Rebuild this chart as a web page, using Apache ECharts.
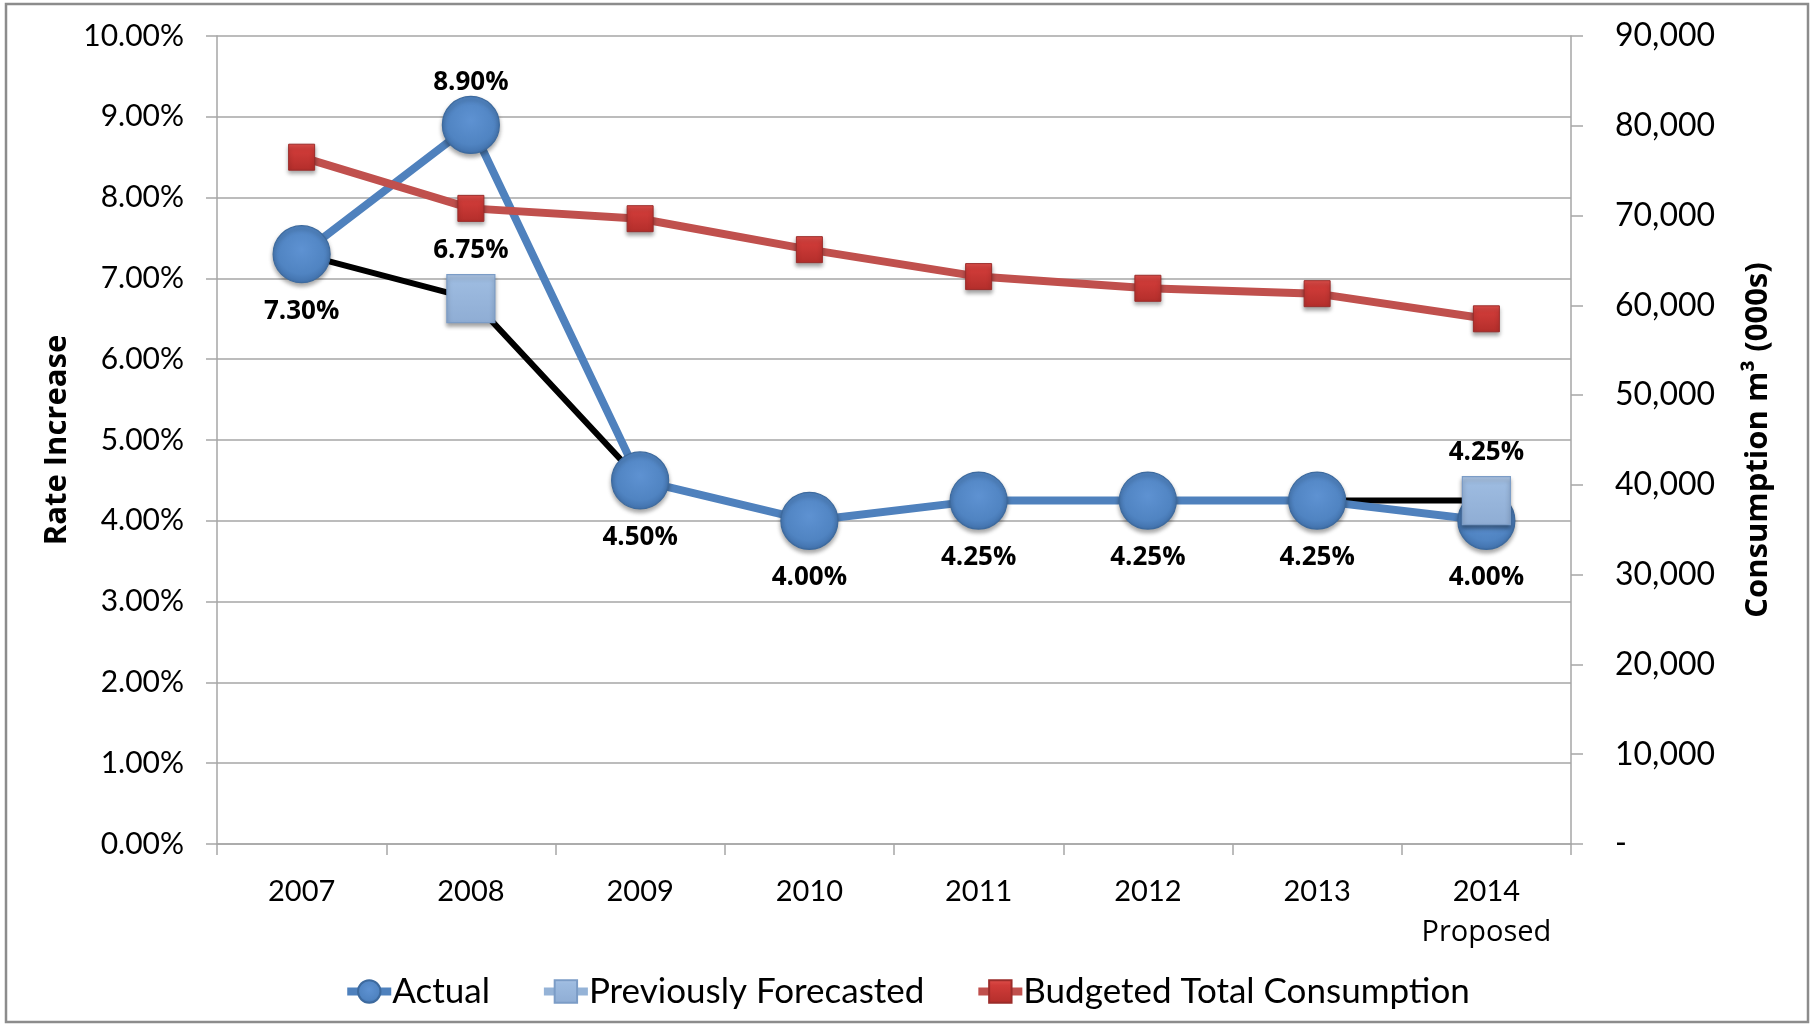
<!DOCTYPE html>
<html>
<head>
<meta charset="utf-8">
<title>Rate Increase and Budgeted Consumption</title>
<script src="https://cdn.jsdelivr.net/npm/echarts@6/dist/echarts.min.js"></script>
<style>
  html, body { margin: 0; padding: 0; background: #ffffff; }
  #chart { width: 1813px; height: 1026px; }
</style>
</head>
<body>
<div id="chart"></div>
<script>
// Years on the category axis, with a second-line note under some of them
const years = ['2007', '2008', '2009', '2010', '2011', '2012', '2013', '2014'];
const yearNotes = ['', '', '', '', '', '', '', 'Proposed'];

// Rate increase (%), actual and previously forecasted
const actualRate = [7.30, 8.90, 4.50, 4.00, 4.25, 4.25, 4.25, 4.00];
const forecastRate = [7.30, 6.75, 4.50, 4.00, 4.25, 4.25, 4.25, 4.25];
const forecastMarked = [false, true, false, false, false, false, false, true];

// Budgeted total consumption, m3 (000s)
const budgetedConsumption = [76500, 70800, 69650, 66200, 63200, 61900, 61300, 58500];

// Axis ranges
const rateAxisRange = { min: 0, max: 10, interval: 1 };
const consumptionAxisRange = { min: 0, max: 90000, interval: 10000 };

// Which actual-rate labels sit above their marker
const actualLabelAbove = [false, true, false, false, false, false, false, false];

const tickFont = 'Lato, "Noto Sans", sans-serif';
const boldFont = '"Open Sans", "Noto Sans", sans-serif';
const gridGray = '#a6a6a6';
const pct = v => v.toFixed(2) + '%';

const actualFill = {
  type: 'radial', x: 0.5, y: 0.42, r: 0.6,
  colorStops: [
    { offset: 0, color: '#5e92d2' },
    { offset: 0.7, color: '#5084c2' },
    { offset: 1, color: '#3f6ea8' }
  ]
};
const forecastFill = {
  type: 'linear', x: 0, y: 0, x2: 0, y2: 1,
  colorStops: [
    { offset: 0, color: '#b4cbe8' },
    { offset: 0.15, color: '#9dbbe0' },
    { offset: 1, color: '#8fadd4' }
  ]
};
const budgetFill = {
  type: 'linear', x: 0, y: 0, x2: 0, y2: 1,
  colorStops: [
    { offset: 0, color: '#e0504c' },
    { offset: 0.25, color: '#cf3b38' },
    { offset: 1, color: '#b32e2b' }
  ]
};
const markShadow = { shadowBlur: 4, shadowOffsetY: 3, shadowColor: 'rgba(0,0,0,0.35)' };

const chart = echarts.init(document.getElementById('chart'), null, { renderer: 'canvas' });

const option = {
  backgroundColor: '#ffffff',
  animation: false,
  graphic: [{
    type: 'rect',
    shape: { x: 6, y: 4, width: 1802, height: 1018 },
    style: { fill: 'none', stroke: '#8c8c8c', lineWidth: 2.5 },
    silent: true,
    z: 0
  }],
  grid: { left: 217, right: 242, top: 36, bottom: 182 },
  legend: {
    data: ['Actual', 'Previously Forecasted', 'Budgeted Total Consumption'],
    bottom: 12,
    left: 'center',
    itemWidth: 44,
    itemHeight: 28,
    itemGap: 50,
    lineStyle: { width: 8 },
    textStyle: { fontFamily: tickFont, fontSize: 35, color: '#000', padding: [0, 0, 0, -4] }
  },
  xAxis: {
    type: 'category',
    data: years,
    boundaryGap: true,
    axisLine: { show: true, lineStyle: { color: gridGray, width: 1.5 } },
    axisTick: { show: true, length: 11, interval: 0, lineStyle: { color: gridGray, width: 1.5 } },
    axisLabel: {
      interval: 0,
      margin: 28,
      color: '#000',
      fontFamily: tickFont,
      fontSize: 29,
      lineHeight: 40,
      formatter: (v, i) => yearNotes[i] ? v + '\n{note|' + yearNotes[i] + '}' : v,
      rich: {
        note: { fontFamily: boldFont, fontSize: 29, color: '#000', lineHeight: 42 }
      }
    }
  },
  yAxis: [
    {
      type: 'value',
      min: rateAxisRange.min,
      max: rateAxisRange.max,
      interval: rateAxisRange.interval,
      name: 'Rate Increase',
      nameLocation: 'middle',
      nameRotate: 90,
      nameGap: 142,
      nameTextStyle: { fontFamily: boldFont, fontWeight: 'bold', fontSize: 31, color: '#000' },
      axisLine: { show: true, lineStyle: { color: gridGray, width: 1.5 } },
      axisTick: { show: true, length: 11, lineStyle: { color: gridGray, width: 1.5 } },
      splitLine: { show: true, lineStyle: { color: gridGray, width: 1.5 } },
      axisLabel: { margin: 33, color: '#000', fontFamily: tickFont, fontSize: 30, formatter: pct }
    },
    {
      type: 'value',
      position: 'right',
      min: consumptionAxisRange.min,
      max: consumptionAxisRange.max,
      interval: consumptionAxisRange.interval,
      name: 'Consumption m³ (000s)',
      nameLocation: 'middle',
      nameRotate: 90,
      nameGap: 172,
      nameTextStyle: { fontFamily: boldFont, fontWeight: 'bold', fontSize: 31, color: '#000' },
      axisLine: { show: true, lineStyle: { color: gridGray, width: 1.5 } },
      axisTick: { show: true, length: 12, lineStyle: { color: gridGray, width: 1.5 } },
      splitLine: { show: false },
      axisLabel: {
        margin: 44, color: '#000', fontFamily: tickFont, fontSize: 32,
        formatter: v => v === 0 ? '-' : v.toLocaleString('en-US')
      }
    }
  ],
  series: [
    {
      // black path of the earlier forecast, drawn beneath the actual line
      name: 'Forecast path',
      type: 'line',
      yAxisIndex: 0,
      data: forecastRate,
      symbol: 'none',
      silent: true,
      z: 2,
      lineStyle: { color: '#000000', width: 6 }
    },
    {
      name: 'Actual',
      type: 'line',
      yAxisIndex: 0,
      z: 3,
      data: actualRate.map((v, i) => ({
        value: v,
        label: actualLabelAbove[i]
          ? { position: 'top', distance: 0 }
          : { position: 'bottom', distance: 15 }
      })),
      symbol: 'circle',
      symbolSize: 57,
      lineStyle: { color: '#4f81bd', width: 8 },
      itemStyle: Object.assign({ color: actualFill, borderColor: '#3d6a9e', borderWidth: 1.2 }, markShadow),
      label: {
        show: true,
        color: '#000',
        fontFamily: boldFont,
        fontWeight: 'bold',
        fontSize: 26,
        formatter: p => pct(p.value)
      }
    },
    {
      name: 'Previously Forecasted',
      type: 'line',
      yAxisIndex: 0,
      z: 4,
      data: forecastRate.map((v, i) => forecastMarked[i] ? v : null),
      connectNulls: false,
      symbol: 'rect',
      symbolSize: 48,
      lineStyle: { color: '#95b3d7', width: 8 },
      itemStyle: Object.assign({ color: forecastFill, borderColor: '#7b9cc6', borderWidth: 1.2 }, markShadow),
      label: {
        show: true,
        position: 'top',
        distance: 10,
        color: '#000',
        fontFamily: boldFont,
        fontWeight: 'bold',
        fontSize: 26,
        formatter: p => pct(p.value)
      }
    },
    {
      name: 'Budgeted Total Consumption',
      type: 'line',
      yAxisIndex: 1,
      z: 5,
      data: budgetedConsumption,
      symbol: 'rect',
      symbolSize: 26,
      lineStyle: { color: '#c0504d', width: 8 },
      itemStyle: Object.assign({ color: budgetFill, borderColor: '#9b2c2a', borderWidth: 1 }, markShadow)
    }
  ]
};

chart.setOption(option);
</script>
</body>
</html>
